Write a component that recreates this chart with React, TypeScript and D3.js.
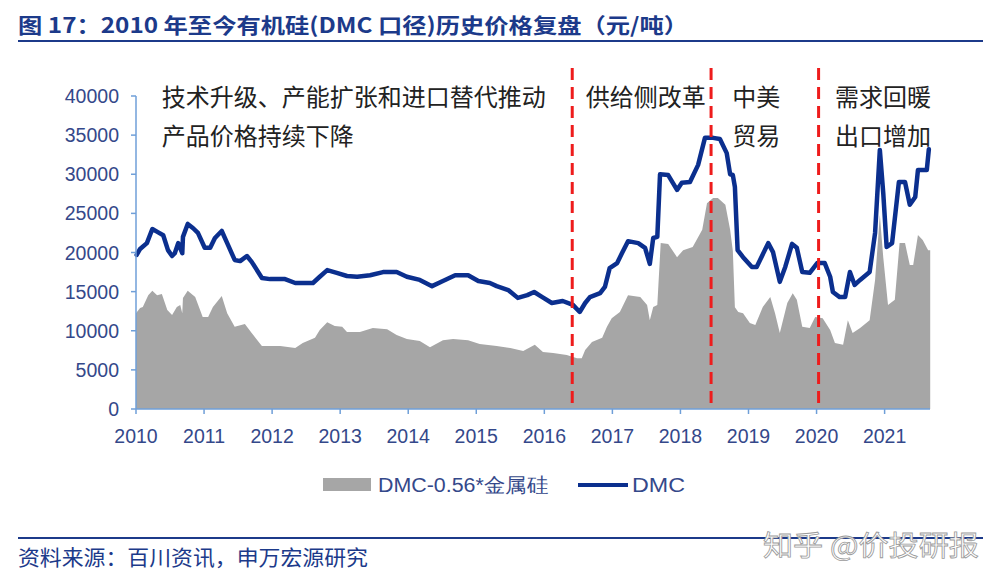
import React from "react";
import * as d3 from "d3";

// DMC price (yuan/ton), [decimal year, value]
const dmcSeries: [number, number][] = [
  [2010.01, 19700], [2010.06, 20450], [2010.16, 21200], [2010.24, 23000], [2010.32, 22600],
  [2010.40, 22200], [2010.47, 20300], [2010.53, 19550], [2010.57, 19900], [2010.62, 21200],
  [2010.68, 19900], [2010.69, 22000], [2010.76, 23650], [2010.84, 23100], [2010.91, 22500],
  [2011.01, 20600], [2011.09, 20600], [2011.16, 21850], [2011.26, 22750], [2011.34, 21200],
  [2011.45, 19050], [2011.53, 18900], [2011.63, 19550], [2011.70, 18800], [2011.85, 16750],
  [2011.97, 16600], [2012.19, 16600], [2012.34, 16100], [2012.60, 16100], [2012.70, 16900],
  [2012.81, 17750], [2012.95, 17400], [2013.10, 17000], [2013.25, 16900], [2013.44, 17100],
  [2013.63, 17500], [2013.83, 17500], [2013.98, 16900], [2014.17, 16500], [2014.35, 15700],
  [2014.51, 16350], [2014.69, 17100], [2014.88, 17100], [2015.03, 16350], [2015.20, 16100],
  [2015.30, 15700], [2015.47, 15200], [2015.61, 14200], [2015.75, 14550], [2015.85, 14950],
  [2015.97, 14300], [2016.11, 13550], [2016.27, 13800], [2016.42, 13300], [2016.52, 12400],
  [2016.60, 13550], [2016.67, 14300], [2016.82, 14800], [2016.89, 15600], [2016.96, 18000],
  [2017.07, 18650], [2017.14, 19900], [2017.23, 21450], [2017.38, 21200], [2017.48, 20600],
  [2017.55, 18550], [2017.60, 21850], [2017.66, 22000], [2017.70, 30000], [2017.82, 29900],
  [2017.95, 28000], [2018.02, 28900], [2018.14, 29000], [2018.26, 31200], [2018.36, 34650],
  [2018.48, 34650], [2018.58, 34500], [2018.68, 32700], [2018.73, 30000], [2018.77, 29900],
  [2018.80, 28400], [2018.84, 20300], [2018.92, 19400], [2019.05, 18150], [2019.12, 18150],
  [2019.29, 21200], [2019.36, 20050], [2019.46, 16250], [2019.54, 18150], [2019.64, 21100],
  [2019.71, 20600], [2019.79, 17500], [2019.90, 17400], [2020.01, 18650], [2020.12, 18650],
  [2020.20, 16900], [2020.24, 14950], [2020.34, 14300], [2020.42, 14300], [2020.49, 17500],
  [2020.56, 15850], [2020.64, 16500], [2020.78, 17500], [2020.86, 22500], [2020.93, 33100],
  [2020.98, 27600], [2021.03, 20700], [2021.11, 21200], [2021.21, 29000], [2021.30, 29000],
  [2021.37, 26100], [2021.45, 27100], [2021.49, 30550], [2021.62, 30550], [2021.65, 33200],
];

// DMC - 0.56 * silicon metal spread, [decimal year, value]
const spreadSeries: [number, number][] = [
  [2010.00, 12250], [2010.06, 12900], [2010.10, 13050], [2010.18, 14550], [2010.24, 15100],
  [2010.31, 14550], [2010.38, 14700], [2010.46, 12650], [2010.53, 12000], [2010.60, 13050],
  [2010.65, 13300], [2010.68, 12250], [2010.69, 14200], [2010.76, 15100], [2010.87, 14300],
  [2010.98, 11750], [2011.06, 11750], [2011.13, 13050], [2011.26, 14450], [2011.34, 12250],
  [2011.45, 10500], [2011.60, 10850], [2011.70, 9700], [2011.85, 8050], [2012.12, 8050],
  [2012.34, 7800], [2012.45, 8450], [2012.63, 9100], [2012.70, 10100], [2012.81, 11100],
  [2012.92, 10600], [2013.03, 10500], [2013.10, 9850], [2013.29, 9850], [2013.48, 10350],
  [2013.69, 10200], [2013.83, 9450], [2013.98, 8950], [2014.17, 8700], [2014.32, 7900],
  [2014.51, 8800], [2014.66, 8950], [2014.88, 8800], [2015.05, 8300], [2015.30, 8050],
  [2015.50, 7800], [2015.69, 7400], [2015.86, 8200], [2015.98, 7300], [2016.13, 7150],
  [2016.33, 6900], [2016.48, 6500], [2016.55, 6500], [2016.60, 7550], [2016.70, 8550],
  [2016.85, 9100], [2016.92, 10500], [2016.99, 11600], [2017.11, 12400], [2017.23, 14550],
  [2017.41, 14300], [2017.51, 13300], [2017.55, 11350], [2017.60, 13050], [2017.66, 13300],
  [2017.71, 21200], [2017.82, 21100], [2017.95, 19400], [2018.04, 20300], [2018.18, 20700],
  [2018.32, 22900], [2018.39, 26300], [2018.48, 26950], [2018.55, 26950], [2018.66, 26100],
  [2018.73, 22900], [2018.77, 20200], [2018.80, 13000], [2018.85, 12400], [2018.92, 12250],
  [2019.02, 11000], [2019.10, 10750], [2019.21, 13050], [2019.32, 14300], [2019.39, 12250],
  [2019.46, 9700], [2019.57, 13550], [2019.65, 14800], [2019.71, 13950], [2019.79, 10500],
  [2019.90, 10350], [2019.98, 11750], [2020.09, 11600], [2020.20, 10100], [2020.27, 8450],
  [2020.39, 8200], [2020.46, 11350], [2020.53, 9700], [2020.64, 10350], [2020.78, 11350],
  [2020.86, 16500], [2020.93, 24800], [2020.98, 19400], [2021.05, 13300], [2021.15, 13950],
  [2021.22, 21200], [2021.30, 21200], [2021.37, 18400], [2021.42, 18400], [2021.49, 22250],
  [2021.56, 21600], [2021.64, 20300], [2021.67, 20300],
];

const yTicks = [0, 5000, 10000, 15000, 20000, 25000, 30000, 35000, 40000];
const xTicks = [2010, 2011, 2012, 2013, 2014, 2015, 2016, 2017, 2018, 2019, 2020, 2021];
const eventLines = [2016.41, 2018.45, 2020.03];

const titleText = "图 17：2010 年至今有机硅(DMC 口径)历史价格复盘（元/吨）";
const sourceText = "资料来源：百川资讯，申万宏源研究";
const legendLabels = ["DMC-0.56*金属硅", "DMC"];
const annotations = [
  { lines: ["技术升级、产能扩张和进口替代推动", "产品价格持续下降"], at: 2010.38 },
  { lines: ["供给侧改革"], at: 2016.61 },
  { lines: ["中美", "贸易"], at: 2018.76 },
  { lines: ["需求回暖", "出口增加"], at: 2020.27 },
];

const BLUE = "#0b2f8e";
const GRAY = "#a6a6a6";
const AXIS = "#6f9fd8";
const LABEL = "#34488a";
const CJK = "'Noto Sans CJK SC', 'Noto Sans', sans-serif";
const LAT = "'Liberation Sans', Arial, sans-serif";

export default function App() {
  const x = d3.scaleLinear().domain([2010, 2021.667]).range([136, 930]);
  const y = d3.scaleLinear().domain([0, 40000]).range([409, 96]);

  const area = d3
    .area<[number, number]>()
    .x((d) => x(d[0]))
    .y0(y(0))
    .y1((d) => y(d[1]));
  const line = d3
    .line<[number, number]>()
    .x((d) => x(d[0]))
    .y((d) => y(d[1]));

  return (
    <svg
      width={1004}
      height={583}
      style={{ position: "absolute", left: 0, top: 0, background: "#fff" }}
    >
      {/* title */}
      <text x={18} y={33} fontFamily={CJK} fontWeight={700} fontSize={21} fill="#1c3a8a" textLength={670} lengthAdjust="spacingAndGlyphs">
        {titleText}
      </text>
      <line x1={18} x2={983} y1={41} y2={41} stroke="#1c3a8a" strokeWidth={2.2} />

      {/* spread area */}
      <path d={area(spreadSeries) || ""} fill={GRAY} />

      {/* DMC line */}
      <path d={line(dmcSeries) || ""} fill="none" stroke={BLUE} strokeWidth={4.5} strokeLinejoin="round" strokeLinecap="round" />

      {/* event lines */}
      {eventLines.map((t) => (
        <line key={t} x1={x(t)} x2={x(t)} y1={68} y2={409} stroke="#ee1c1c" strokeWidth={3} strokeDasharray="12,7" />
      ))}

      {/* axes */}
      <line x1={136} x2={136} y1={y(40000)} y2={y(0)} stroke={AXIS} strokeWidth={1.5} />
      <line x1={136} x2={x(2021.667)} y1={y(0)} y2={y(0)} stroke={AXIS} strokeWidth={1.5} />
      {yTicks.map((v) => (
        <g key={v}>
          <line x1={131} x2={136} y1={y(v)} y2={y(v)} stroke={AXIS} strokeWidth={1.5} />
          <text x={119} y={y(v) + 7} textAnchor="end" fontFamily={LAT} fontSize={19.5} fill={LABEL}>
            {v}
          </text>
        </g>
      ))}
      {xTicks.map((t) => (
        <g key={t}>
          <line x1={x(t)} x2={x(t)} y1={409} y2={414} stroke={AXIS} strokeWidth={1.5} />
          <text x={x(t)} y={443} textAnchor="middle" fontFamily={LAT} fontSize={19.5} fill={LABEL}>
            {t}
          </text>
        </g>
      ))}

      {/* annotations */}
      {annotations.map((a) =>
        a.lines.map((s, i) => (
          <text key={s} x={x(a.at)} y={106 + i * 39} fontFamily={CJK} fontSize={24} fill="#222">
            {s}
          </text>
        ))
      )}

      {/* legend */}
      <rect x={323} y={478} width={48} height={13} fill={GRAY} />
      <text x={378} y={492} fontFamily={LAT} fontSize={20} fill={LABEL} textLength={170} lengthAdjust="spacingAndGlyphs">
        {legendLabels[0]}
      </text>
      <line x1={578} x2={628} y1={485} y2={485} stroke={BLUE} strokeWidth={4} />
      <text x={632} y={492} fontFamily={LAT} fontSize={20} fill={LABEL} textLength={53} lengthAdjust="spacingAndGlyphs">
        {legendLabels[1]}
      </text>

      {/* footer */}
      <line x1={18} x2={983} y1={538} y2={538} stroke="#1c3a8a" strokeWidth={2} />
      <text x={18} y={565} fontFamily={CJK} fontSize={21} fill="#1c3a8a" textLength={350} lengthAdjust="spacingAndGlyphs">
        {sourceText}
      </text>
      <text x={763} y={556} fontFamily={CJK} fontSize={28} fill="#fff" stroke="#9a9a9a" strokeWidth={0.8} textLength={216} lengthAdjust="spacingAndGlyphs">
        知乎 @价投研报
      </text>
    </svg>
  );
}
